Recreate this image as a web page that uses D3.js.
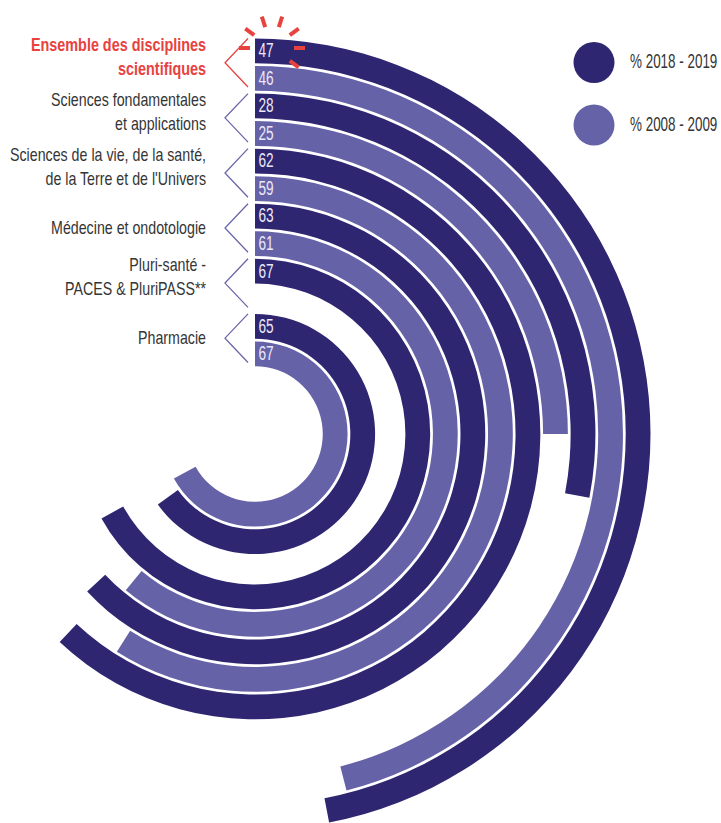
<!DOCTYPE html>
<html><head><meta charset="utf-8">
<script src="https://cdn.jsdelivr.net/npm/d3@7"></script>
<style>
html,body{margin:0;padding:0;background:#fff;}
svg{display:block;}
</style>
</head><body>
<script>
// ---- data ----
const categories = [
  ["Ensemble des disciplines", "scientifiques"],
  ["Sciences fondamentales", "et applications"],
  ["Sciences de la vie, de la santé,", "de la Terre et de l'Univers"],
  ["Médecine et ondotologie"],
  ["Pluri-santé -", "PACES & PluriPASS**"],
  ["Pharmacie"]
];
const values2018 = [47, 28, 62, 63, 67, 65];
const values2008 = [46, 25, 59, 61, null, 67];
const seriesNames = ["% 2018 - 2019", "% 2008 - 2009"];
const seriesColors = ["#2e2670", "#6562a8"];
const highlightIndex = 0;

// ---- layout ----
const W = 721, H = 823;
const cx = 255, cy = 434;
const FONT = "'Liberation Sans', Arial, sans-serif";
const svg = d3.select("body").append("svg").attr("width", W).attr("height", H);

// condensed text helper: horizontal squeeze around an anchor x
function ctext(parent, x, sx) {
  return parent.append("g").attr("transform", `translate(${x},0) scale(${sx},1)`).append("text");
}

const slots = [];
categories.forEach((c, i) => {
  slots.push({cat: i, s: 0, id: i + "-0", v: values2018[i]});
  slots.push({cat: i, s: 1, id: i + "-1", v: values2008[i]});
});

const step = 27.54, rMax = 395.5;
const r = d3.scaleBand().domain(slots.map(d => d.id)).range([rMax, rMax - slots.length * step]).padding(0);
const thick = r.bandwidth() * 0.9;
const ang = d3.scaleLinear().domain([0, 100]).range([0, 2 * Math.PI]);

const g = svg.append("g").attr("transform", `translate(${cx},${cy})`);
const arc = d3.arc();

const bars = slots.filter(d => d.v != null);
g.selectAll("path.bar").data(bars).join("path")
  .attr("class", "bar")
  .attr("fill", d => seriesColors[d.s])
  .attr("d", d => {
    const ro = r(d.id) + r.bandwidth();
    return arc({innerRadius: ro - thick, outerRadius: ro, startAngle: 0, endAngle: ang(d.v)});
  });

bars.forEach(d => {
  ctext(svg, cx + 3.5, 0.7)
    .attr("y", cy - (r(d.id) + r.bandwidth()) + 18.7)
    .attr("font-family", FONT).attr("font-size", 19.5)
    .attr("fill", "#ebe8f7")
    .text(d.v);
});

// brackets and labels
categories.forEach((lines, i) => {
  const top = cy - (r(i + "-0") + r.bandwidth());
  const bot = cy - (r(i + "-1") + r.bandwidth()) + 21;
  const mid = (top + bot) / 2;
  const hl = i === highlightIndex;
  const col = hl ? "#e8423f" : "#6a66ab";
  svg.append("path")
    .attr("d", d3.line()([[cx - 7, top], [cx - 30, mid], [cx - 7, bot]]))
    .attr("fill", "none").attr("stroke", col).attr("stroke-width", 1.3);
  const t = ctext(svg, 206, hl ? 0.8 : 0.79)
    .attr("text-anchor", "end")
    .attr("font-family", FONT).attr("font-size", 18)
    .attr("font-weight", hl ? "bold" : "normal")
    .attr("fill", hl ? "#e8423f" : "#353535");
  if (lines.length === 1) {
    t.append("tspan").attr("x", 0).attr("y", mid + 6).text(lines[0]);
  } else {
    lines.forEach((l, k) => t.append("tspan").attr("x", 0).attr("y", mid - 12 + k * 24).text(l));
  }
});

// highlight rays
const rayAngles = [180, 144, 108, 72, 36, 0, -36];
const rc = [272, 48];
svg.selectAll("line.ray").data(rayAngles).join("line")
  .attr("x1", a => rc[0] + 22 * Math.cos(a * Math.PI / 180))
  .attr("y1", a => rc[1] - 22 * Math.sin(a * Math.PI / 180))
  .attr("x2", a => rc[0] + 33 * Math.cos(a * Math.PI / 180))
  .attr("y2", a => rc[1] - 33 * Math.sin(a * Math.PI / 180))
  .attr("stroke", "#e8423f").attr("stroke-width", 4);

// legend
seriesNames.forEach((n, k) => {
  const y = 62.5 + k * 62.5;
  svg.append("circle").attr("cx", 594).attr("cy", y).attr("r", 20.5).attr("fill", seriesColors[k]);
  ctext(svg, 630, 0.64).attr("y", y + 6)
    .attr("font-family", FONT).attr("font-size", 21).attr("fill", "#353535").text(n);
});
</script>
</body></html>
